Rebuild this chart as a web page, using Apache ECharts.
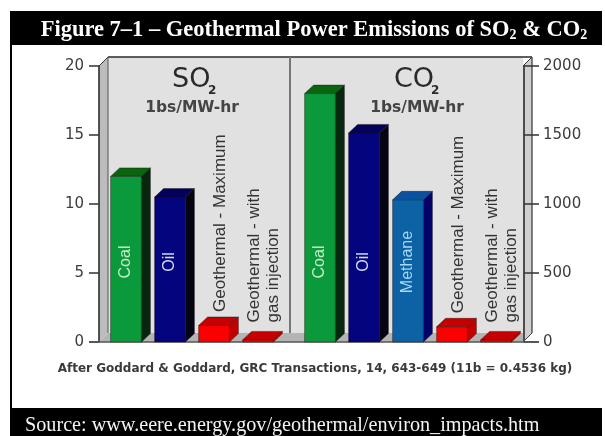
<!DOCTYPE html>
<html><head><meta charset="utf-8">
<style>html,body{margin:0;padding:0;background:#fff}#c{width:605px;height:436px}</style>
<script src="https://cdn.jsdelivr.net/npm/echarts@6/dist/echarts.min.js"></script>
</head><body><div id="c"></div>
<script>
const so2Categories = ['Coal', 'Oil', 'Geothermal - Maximum', 'Geothermal - with\ngas injection'];
const so2Values = [12, 10.5, 1.2, 0.15];
const co2Categories = ['Coal', 'Oil', 'Methane', 'Geothermal - Maximum', 'Geothermal - with\ngas injection'];
const co2Values = [1800, 1515, 1030, 110, 15];
const so2Ticks = [0, 5, 10, 15, 20];
const co2Ticks = [0, 500, 1000, 1500, 2000];

const palette = {
  Coal: {front: '#0a9a3c', side: '#07280f', top: '#0b650f', text: '#c4ecc8'},
  Oil: {front: '#04047e', side: '#040412', top: '#02025c', text: '#d8dcf4'},
  Methane: {front: '#0c62a4', side: '#02026a', top: '#0a52a0', text: '#a8d8f4'},
  Geothermal: {front: '#fb0000', side: '#c20000', top: '#c40000', text: '#333'}
};
const FONT = '"Liberation Sans", Arial, sans-serif';
const DX = 9, DY = 8.5;

function renderBar(categories) {
  return function (params, api) {
    const i = api.value(0), v = api.value(1);
    const name = categories[i];
    const c = palette[name.split(' ')[0]];
    const base = api.coord([i, 0]);
    const top = api.coord([i, v]);
    const w = api.size([1, 0])[0] * 0.7;
    const l = base[0] - w / 2, r = base[0] + w / 2;
    const pts = {
      front: [[l, base[1]], [l, top[1]], [r, top[1]], [r, base[1]]],
      side: [[r, base[1]], [r, top[1]], [r + DX, top[1] - DY], [r + DX, base[1] - DY]],
      top: [[l, top[1]], [l + DX, top[1] - DY], [r + DX, top[1] - DY], [r, top[1]]]
    };
    const poly = (p, fill) => ({type: 'polygon', shape: {points: p}, style: {fill, stroke: '#1a0a0a', lineWidth: 0.4, opacity: 1}});
    const isGeo = name.startsWith('Geothermal');
    const multi = name.includes('\n');
    const text = {
      type: 'text', rotation: Math.PI / 2,
      x: isGeo ? base[0] + 6 : base[0],
      y: isGeo ? top[1] - DY - (multi ? 9 : 5) : base[1] - 80,
      style: {
        text: name, fill: c.text,
        font: (isGeo ? '17px ' : '16px ') + FONT,
        align: isGeo ? 'left' : 'center', verticalAlign: 'middle', lineHeight: 19
      }
    };
    return {type: 'group', children: [poly(pts.side, c.side), poly(pts.top, c.top), poly(pts.front, c.front), text]};
  };
}

const axisLabel = {color: '#3c3c3c', fontFamily: 'DejaVu Sans', fontSize: 15, formatter: v => String(v)};
const wallPts = [[108, 57], [523, 57], [523, 333], [108, 333]];
const rectBlack = (x, y, width, height) => ({type: 'rect', shape: {x, y, width, height}, style: {fill: '#000'}, z: 0, silent: true});
const line = (x1, y1, x2, y2, stroke, lineWidth) => ({type: 'line', shape: {x1, y1, x2, y2}, style: {stroke, lineWidth}, z: 1, silent: true});
const poly = (points, fill) => ({type: 'polygon', shape: {points}, style: {fill}, z: 0, silent: true});
const label = (x, y, text, font, align, fill) => ({
  type: 'text', x, y, z: 2, silent: true,
  style: {text, align: align || 'center', verticalAlign: 'middle', font, fill: fill || '#2a2a2a'}
});
const HEAD = '27px "DejaVu Sans"', SUBSCRIPT = 'bold 12px "DejaVu Sans"', UNIT = 'bold 15.5px "DejaVu Sans"';

const chart = echarts.init(document.getElementById('c'), null, {renderer: 'canvas'});
chart.setOption({
  animation: false,
  backgroundColor: '#fff',
  title: [{
    text: 'Figure 7–1 – Geothermal Power Emissions of SO{s|2} & CO{s|2}',
    left: 309, top: 13, textAlign: 'center',
    textStyle: {color: '#fff', fontFamily: 'Liberation Serif', fontWeight: 'bold', fontSize: 22.5,
      rich: {s: {color: '#fff', fontFamily: 'Liberation Serif', fontWeight: 'bold', fontSize: 14, padding: [10, 0, 0, 0]}}}
  }, {
    text: 'Source: www.eere.energy.gov/geothermal/environ_impacts.htm',
    left: 20, top: 411,
    textStyle: {color: '#f4f4f4', fontFamily: 'Liberation Serif', fontWeight: 'normal', fontSize: 20.2}
  }, {
    text: 'After Goddard & Goddard, GRC Transactions, 14, 643-649 (11b = 0.4536 kg)',
    left: 310, top: 358, textAlign: 'center',
    textStyle: {color: '#3a3a3a', fontFamily: 'DejaVu Sans', fontWeight: 'bold', fontSize: 12}
  }],
  grid: [
    {left: 104, top: 66, width: 176, height: 276},
    {left: 298, top: 66, width: 220, height: 276}
  ],
  xAxis: [
    {type: 'category', gridIndex: 0, data: so2Categories, show: false},
    {type: 'category', gridIndex: 1, data: co2Categories, show: false}
  ],
  yAxis: [
    {type: 'value', gridIndex: 0, position: 'left', offset: 5, min: so2Ticks[0], max: so2Ticks[4], interval: so2Ticks[1],
      axisLine: {show: true, lineStyle: {color: '#222', width: 1.5}},
      axisTick: {show: true, length: 10, lineStyle: {color: '#333', width: 1.5}},
      axisLabel: {...axisLabel, margin: 15}, splitLine: {show: false}},
    {type: 'value', gridIndex: 1, position: 'right', offset: 6, min: co2Ticks[0], max: co2Ticks[4], interval: co2Ticks[1],
      axisLine: {show: true, lineStyle: {color: '#222', width: 1.5}},
      axisTick: {show: true, length: 15, lineStyle: {color: '#333', width: 1.5}},
      axisLabel: {...axisLabel, margin: 19}, splitLine: {show: false}}
  ],
  series: [
    {type: 'custom', z: 5, xAxisIndex: 0, yAxisIndex: 0, renderItem: renderBar(so2Categories),
      data: so2Values.map((v, i) => [i, v]), encode: {x: 0, y: 1}, clip: false},
    {type: 'custom', z: 5, xAxisIndex: 1, yAxisIndex: 1, renderItem: renderBar(co2Categories),
      data: co2Values.map((v, i) => [i, v]), encode: {x: 0, y: 1}, clip: false}
  ],
  graphic: [
    rectBlack(10, 11, 592, 34), rectBlack(10, 408, 592, 28), rectBlack(10, 45, 2, 363),
    poly([[99, 66], [108, 57], [108, 333], [99, 342]], '#bcbcbc'),
    poly(wallPts, '#e1e1e1'),
    poly([[108, 333], [523, 333], [523, 342], [99, 342]], '#b4b4b4'),
    poly([[523, 66], [532, 57], [532, 333], [523, 342]], '#d0d0d0'),
    line(108, 57, 532, 57, '#2a2a2a', 1.5),
    line(99, 66, 108, 57, '#333', 1),
    line(108, 57, 108, 333, '#555', 1),
    line(523, 66, 532, 57, '#333', 1),
    line(532, 57, 532, 333, '#333', 1.2),
    line(523, 342, 532, 333, '#444', 1),
    line(290, 57, 290, 333, '#777', 2),
    line(89, 342, 539, 342, '#555', 1.5),
    label(172, 80, 'SO', HEAD, 'left'), label(208, 91, '2', SUBSCRIPT, 'left'), label(192, 108, '1bs/MW-hr', UNIT, 'center', '#444'),
    label(394, 80, 'CO', HEAD, 'left'), label(431, 91, '2', SUBSCRIPT, 'left'), label(417, 108, '1bs/MW-hr', UNIT, 'center', '#444')
  ]
});
</script></body></html>
